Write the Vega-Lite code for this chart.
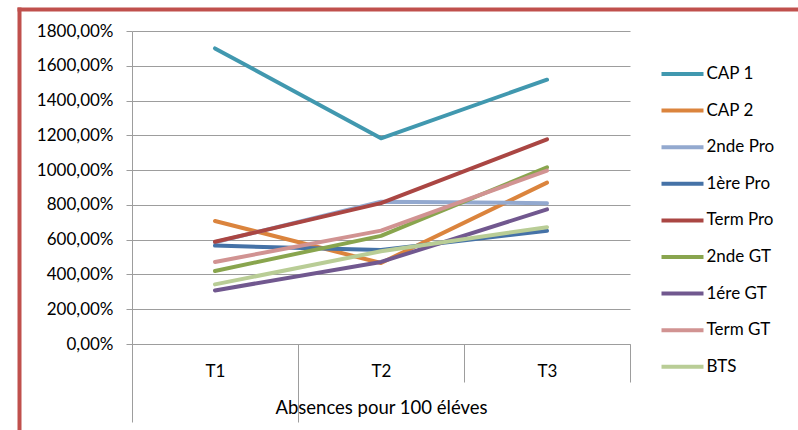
{
  "$schema": "https://vega.github.io/schema/vega-lite/v6.json",
  "width": 779,
  "height": 421,
  "autosize": {"type": "none"},
  "padding": {"left": 19, "top": 9, "right": 0, "bottom": 0},
  "background": "white",
  "config": {
    "font": "Lato",
    "view": {"stroke": null},
    "axis": {"labelColor": "#000", "titleColor": "#000", "labelFontSize": 17, "titleFontSize": 18.5, "titleFontWeight": "normal"}
  },
  "data": {
    "values": [
      {"serie": "CAP 1", "t": "T1", "v": 1700}, {"serie": "CAP 1", "t": "T2", "v": 1183}, {"serie": "CAP 1", "t": "T3", "v": 1520},
      {"serie": "CAP 2", "t": "T1", "v": 707}, {"serie": "CAP 2", "t": "T2", "v": 466}, {"serie": "CAP 2", "t": "T3", "v": 928},
      {"serie": "2nde Pro", "t": "T1", "v": 585}, {"serie": "2nde Pro", "t": "T2", "v": 818}, {"serie": "2nde Pro", "t": "T3", "v": 810},
      {"serie": "1ère Pro", "t": "T1", "v": 566}, {"serie": "1ère Pro", "t": "T2", "v": 540}, {"serie": "1ère Pro", "t": "T3", "v": 651},
      {"serie": "Term Pro", "t": "T1", "v": 588}, {"serie": "Term Pro", "t": "T2", "v": 810}, {"serie": "Term Pro", "t": "T3", "v": 1177},
      {"serie": "2nde GT", "t": "T1", "v": 420}, {"serie": "2nde GT", "t": "T2", "v": 622}, {"serie": "2nde GT", "t": "T3", "v": 1016},
      {"serie": "1ére GT", "t": "T1", "v": 308}, {"serie": "1ére GT", "t": "T2", "v": 472}, {"serie": "1ére GT", "t": "T3", "v": 774},
      {"serie": "Term GT", "t": "T1", "v": 472}, {"serie": "Term GT", "t": "T2", "v": 652}, {"serie": "Term GT", "t": "T3", "v": 997},
      {"serie": "BTS", "t": "T1", "v": 343}, {"serie": "BTS", "t": "T2", "v": 533}, {"serie": "BTS", "t": "T3", "v": 672}
    ]
  },
  "layer": [
    {
      "mark": {"type": "point", "opacity": 0},
      "encoding": {
        "x": {"field": "v", "type": "quantitative", "axis": {"orient": "top", "domain": true, "domainColor": "#C0504D", "domainWidth": 4, "domainCap": "square", "ticks": false, "labels": false, "grid": false, "title": null}},
        "y": {"field": "v", "type": "quantitative", "axis": {"orient": "left", "domain": true, "domainColor": "#C0504D", "domainWidth": 4, "domainCap": "square", "ticks": false, "labels": false, "grid": false, "title": null}}
      }
    },
    {
      "mark": {"type": "line", "strokeWidth": 4, "strokeCap": "round", "strokeJoin": "round"},
      "encoding": {
        "x": {
          "field": "t", "type": "ordinal", "bandPosition": 0.5,
          "scale": {"type": "band", "domain": ["T1", "T2", "T3"], "range": [113, 611], "paddingInner": 0, "paddingOuter": 0},
          "axis": {"orient": "bottom", "offset": -86, "tickBand": "extent", "tickSize": 38, "tickColor": "#9d9d9d", "domainColor": "#9d9d9d", "labelPadding": -19, "labelAngle": 0, "grid": false, "title": "Absences pour 100 éléves", "titlePadding": 16}
        },
        "y": {
          "field": "v", "type": "quantitative",
          "scale": {"domain": [0, 1800], "range": [335, 22], "nice": false},
          "axis": {"orient": "left", "offset": -113, "values": [0, 200, 400, 600, 800, 1000, 1200, 1400, 1600, 1800], "labelExpr": "replace(format(datum.value, '.2f'), '.', ',') + '%'", "tickSize": 6, "labelPadding": 13, "tickColor": "#9d9d9d", "domainColor": "#9d9d9d", "gridColor": "#9d9d9d", "grid": true, "title": null}
        },
        "color": {
          "field": "serie", "type": "nominal",
          "scale": {
            "domain": ["CAP 1", "CAP 2", "2nde Pro", "1ère Pro", "Term Pro", "2nde GT", "1ére GT", "Term GT", "BTS"],
            "range": ["#4198AF", "#DB843D", "#93A9CF", "#4572A7", "#AA4643", "#89A54E", "#71588F", "#D19392", "#B9CD96"]
          },
          "legend": {"orient": "none", "legendX": 654.5, "legendY": 56, "title": null, "direction": "vertical", "symbolType": "M-3,0H3", "symbolSize": 196, "symbolStrokeWidth": 4, "labelOffset": 15, "labelFontSize": 17, "labelColor": "#000", "rowPadding": 19.6, "padding": 0}
        }
      }
    },
    {
      "mark": {"type": "point", "opacity": 0},
      "encoding": {
        "x": {
          "field": "t", "type": "ordinal", "bandPosition": 0.5,
          "scale": {"type": "band", "domain": ["T1", "T2", "T3"], "range": [113, 611], "paddingInner": 0, "paddingOuter": 0},
          "axis": {"orient": "bottom", "offset": -86, "tickBand": "extent", "tickSize": 78, "tickColor": {"condition": {"test": "datum.value === 'T2' || datum.value === 'T3'", "value": "transparent"}, "value": "#9d9d9d"}, "labels": false, "domain": false, "grid": false, "title": null}
        },
        "y": {"field": "v", "type": "quantitative", "axis": null}
      }
    }
  ],
  "resolve": {"scale": {"x": "independent", "y": "independent"}, "axis": {"x": "independent", "y": "independent"}}
}
